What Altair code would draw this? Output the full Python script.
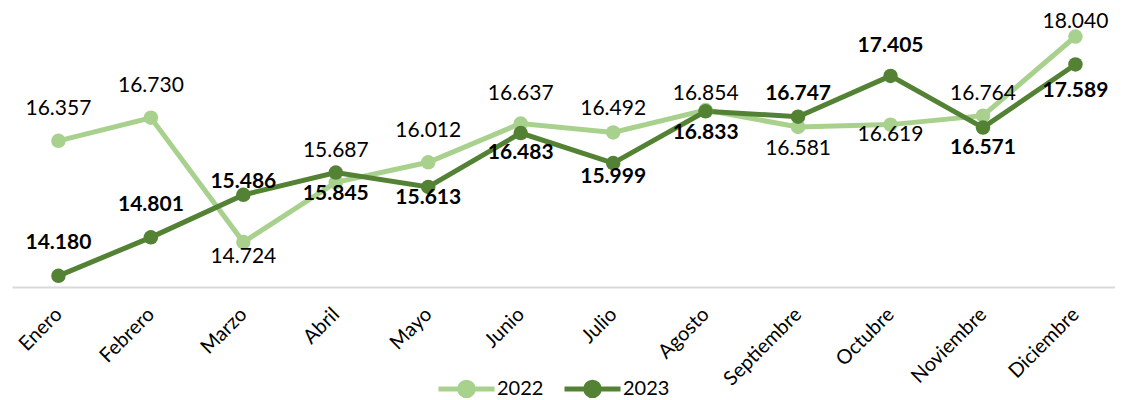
import altair as alt
import pandas as pd

months = ["Enero", "Febrero", "Marzo", "Abril", "Mayo", "Junio", "Julio",
          "Agosto", "Septiembre", "Octubre", "Noviembre", "Diciembre"]
v2022 = [16357, 16730, 14724, 15687, 16012, 16637, 16492, 16854, 16581, 16619, 16764, 18040]
v2023 = [14180, 14801, 15486, 15845, 15613, 16483, 15999, 16833, 16747, 17405, 16571, 17589]
# label offsets (px) relative to each point
dy2022 = [-32, -32, 15, -31, -31, -30, -23, -16, 22, 10, -22, -15]
dy2023 = [-33, -32, -13, 21, 11, 20, 14, 22, -23, -30, 20, 27]

rows = []
for i, m in enumerate(months):
    rows.append({"mes": m, "anio": "2022", "valor": v2022[i], "dy": dy2022[i]})
    rows.append({"mes": m, "anio": "2023", "valor": v2023[i], "dy": dy2023[i]})
df = pd.DataFrame(rows)
df["etiqueta"] = df["valor"].map(lambda v: f"{v:,}".replace(",", "."))

FONT = "Lato"
colors = ["#a9d18e", "#548235"]

x = alt.X("mes:N", sort=months, title=None,
          scale=alt.Scale(type="point", padding=0.465, align=0.54),
          axis=alt.Axis(labelAngle=-45, labelAlign="right", labelBaseline="middle",
                        labelFont=FONT, labelFontSize=20, labelColor="#000000",
                        labelPadding=24, ticks=False, domainColor="#d9d9d9",
                        domainWidth=2, grid=False))
y = alt.Y("valor:Q", title=None, scale=alt.Scale(domain=[14000, 18500], nice=False, zero=False),
          axis=None)

legend_path = ("M-1,0L1,0 M-0.24,0 A0.24,0.24 0 1,1 0.24,0 A0.24,0.24 0 1,1 -0.24,0")

color_leg = alt.Color("anio:N", title=None,
                      scale=alt.Scale(domain=["2022", "2023"], range=colors),
                      legend=alt.Legend(orient="none", direction="horizontal",
                                        legendX=424, legendY=350,
                                        symbolType=legend_path, symbolSize=3136,
                                        symbolStrokeWidth=5,
                                        labelFont=FONT, labelFontSize=20,
                                        labelColor="#000000", columnPadding=10,
                                        labelOffset=0))

base = alt.Chart(df)

lines = base.mark_line(strokeWidth=5, point=alt.OverlayMarkDef(size=210, filled=True, opacity=1)).encode(
    x=x, y=y, color=color_leg, order=alt.Order("anio:N"))

txt22 = base.transform_filter(alt.datum.anio == "2022").mark_text(
    font=FONT, fontSize=21, color="#000000", baseline="middle", dy=alt.expr("datum.dy")).encode(
    x=x, y=y, text="etiqueta:N")
txt23 = base.transform_filter(alt.datum.anio == "2023").mark_text(
    font=FONT, fontSize=21, fontWeight="bold", color="#000000", baseline="middle",
    dy=alt.expr("datum.dy")).encode(
    x=x, y=y, text="etiqueta:N")

chart = alt.layer(lines, txt22, txt23).properties(
    width=1103, height=279,
    padding={"left": 4, "top": 0, "right": 0, "bottom": 0},
).configure(background="#ffffff").configure_view(stroke=None, strokeWidth=0)

chart.save("out.html", embed_options={"renderer": "svg", "actions": False})
